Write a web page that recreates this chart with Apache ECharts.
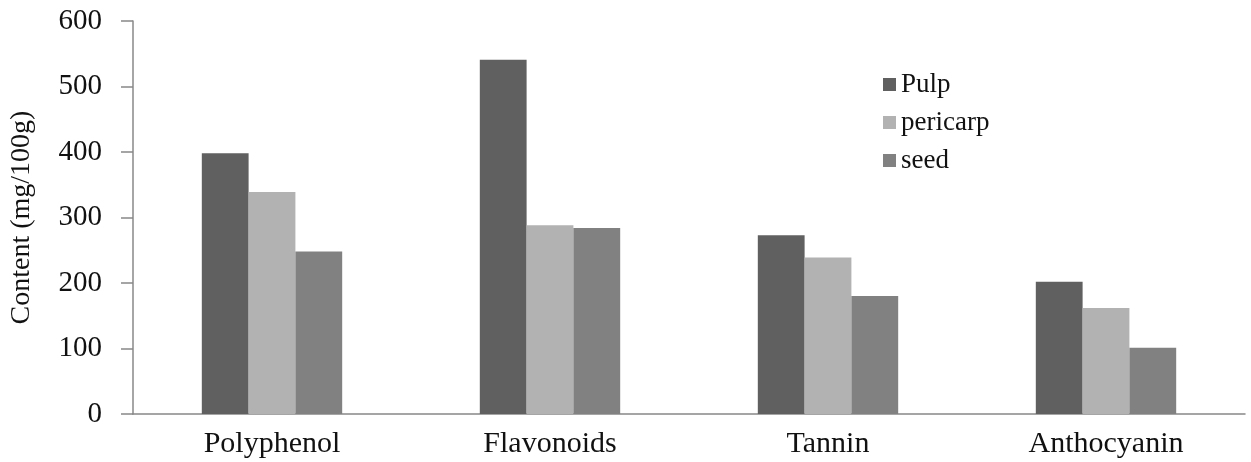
<!DOCTYPE html>
<html>
<head>
<meta charset="utf-8">
<script src="https://cdn.jsdelivr.net/npm/echarts@6/dist/echarts.min.js"></script>
<style>html,body{margin:0;padding:0;background:#fff;}#c{width:1251px;height:462px;}</style>
</head>
<body>
<div id="c"></div>
<script>
const categories = ['Polyphenol', 'Flavonoids', 'Tannin', 'Anthocyanin'];
const pulp = [398, 541, 273, 202];
const pericarp = [339, 288, 239, 162];
const seed = [248, 284, 180, 101];
const yTicks = { min: 0, max: 600, interval: 100 };

const font = 'Liberation Serif, Times New Roman, serif';
const chart = echarts.init(document.getElementById('c'));
chart.setOption({
  animation: false,
  backgroundColor: '#fff',
  grid: { left: 133, right: 6, top: 21, bottom: 48 },
  legend: {
    orient: 'vertical', left: 878, top: 66,
    itemWidth: 13, itemHeight: 13, itemGap: 11,
    icon: 'rect',
    textStyle: { fontFamily: font, fontSize: 27, color: '#111' },
    data: ['Pulp', 'pericarp', 'seed']
  },
  xAxis: {
    type: 'category', data: categories,
    axisLine: { lineStyle: { color: '#888', width: 1.5 } },
    axisTick: { show: false },
    axisLabel: { fontFamily: font, fontSize: 30, color: '#111', margin: 15 }
  },
  yAxis: {
    type: 'value', min: yTicks.min, max: yTicks.max, interval: yTicks.interval,
    name: 'Content (mg/100g)', nameLocation: 'middle', nameGap: 97, nameRotate: 90,
    nameTextStyle: { fontFamily: font, fontSize: 28, color: '#111' },
    axisLine: { show: true, lineStyle: { color: '#888', width: 1.5 } },
    axisTick: { show: true, length: 12, lineStyle: { color: '#888', width: 1.5 } },
    splitLine: { show: false },
    axisLabel: { fontFamily: font, fontSize: 29, color: '#111', margin: 31 }
  },
  series: [
    { name: 'Pulp', type: 'bar', data: pulp, itemStyle: { color: '#606060' }, barGap: '0%', barCategoryGap: '49.5%' },
    { name: 'pericarp', type: 'bar', data: pericarp, itemStyle: { color: '#b2b2b2' } },
    { name: 'seed', type: 'bar', data: seed, itemStyle: { color: '#818181' } }
  ]
});
</script>
</body>
</html>
